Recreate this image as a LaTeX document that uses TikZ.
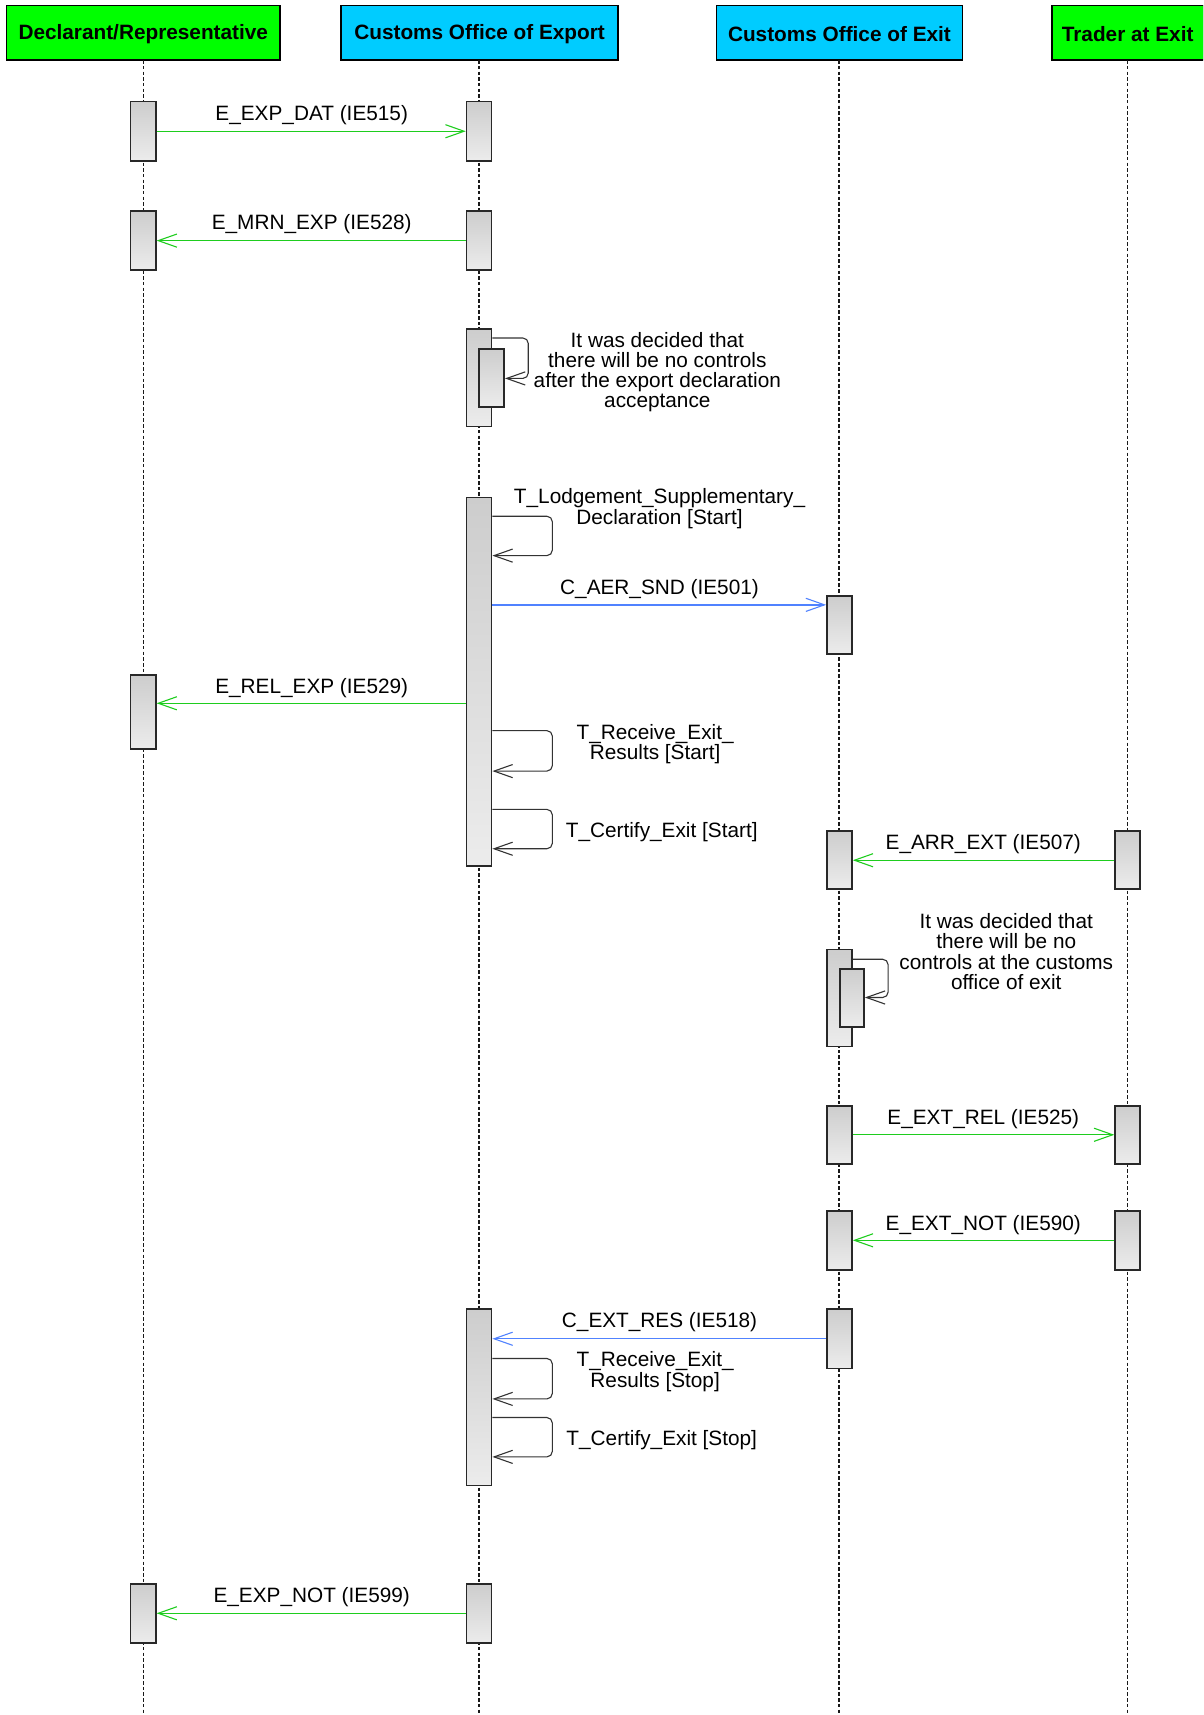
\documentclass[tikz,border=0pt]{standalone}
\usepackage{fontspec}
\setmainfont{Liberation Sans}
\usetikzlibrary{arrows.meta,fit,calc}
\definecolor{hdrgreen}{RGB}{0,255,0}
\definecolor{hdrcyan}{RGB}{0,204,255}
\definecolor{msggreen}{RGB}{30,205,30}
\definecolor{msgblue}{RGB}{80,130,255}
\definecolor{actborder}{RGB}{40,40,40}
\definecolor{acttop}{RGB}{205,205,205}
\definecolor{actbot}{RGB}{236,236,236}
\begin{document}
\begin{tikzpicture}[x=0.5pt,y=-0.5pt,
  font=\fontsize{9.5}{9.2}\selectfont,
  header/.style={draw=black, line width=0.8pt, inner sep=0pt, font=\fontsize{9.5}{10}\selectfont\bfseries},
  lifeline/.style={draw=black!90, line width=0.55pt, dash pattern=on 1.6pt off 1pt},
  act/.style={draw=actborder, line width=0.7pt, inner sep=0pt, top color=acttop, bottom color=actbot},
  vhead/.style={-{Straight Barb[length=8.5pt,width=6pt,line width=0.5pt]}},
  msgG/.style={draw=msggreen, line width=0.6pt, vhead},
  msgB/.style={draw=msgblue, line width=0.6pt, vhead},
  selfmsg/.style={draw=black!80, line width=0.5pt, rounded corners=2.5pt, vhead},
  lbl/.style={inner sep=0pt, align=center},
  hlbl/.style={inner sep=0pt, align=center, font=\fontsize{9.5}{10}\selectfont\bfseries}
]
\clip (0,0) rectangle (1100,1568);
\fill[white] (0,0) rectangle (1100,1568);
% headers
\node[header, fill=hdrgreen, fit={(6,5)(256,55)}] (hDecl) {};
\node[header, fill=hdrcyan, fit={(312,5)(565,55)}] (hExp) {};
\node[header, fill=hdrcyan, fit={(655,5)(880,55)}] (hExit) {};
\node[header, fill=hdrgreen, fit={(962,5)(1101,55)}] (hTrd) {};
\node[hlbl] (tDecl) at (131,31) {Declarant/Representative};
\node[hlbl] (tExp) at (438.5,31) {Customs Office of Export};
\node[hlbl] (tExit) at (767.5,31) {Customs Office of Exit};
\node[hlbl] (tTrd) at (1031,31) {Trader at Exit};
% lifelines
\draw[lifeline] (131,55) -- (131,1568);
\draw[lifeline] (438,55) -- (438,1568);
\draw[lifeline] (767,55) -- (767,1568);
\draw[lifeline] (1031,55) -- (1031,1568);
% activations: Declarant
\node[act, fit={(119.5,93)(142.5,147)}] (D1) {};
\node[act, fit={(119.5,193)(142.5,247)}] (D2) {};
\node[act, fit={(119.5,617)(142.5,685)}] (D3) {};
\node[act, fit={(119.5,1448)(142.5,1502)}] (D4) {};
% Export
\node[act, fit={(426.5,93)(449.5,147)}] (X1) {};
\node[act, fit={(426.5,193)(449.5,247)}] (X2) {};
\node[act, fit={(426.5,301)(449.5,390)}] (X3) {};
\node[act, fit={(438,319)(461,372)}] (X3i) {};
\node[act, fit={(426.5,455)(449.5,792)}] (X4) {};
\node[act, fit={(426.5,1197)(449.5,1358)}] (X5) {};
\node[act, fit={(426.5,1448)(449.5,1502)}] (X6) {};
% Exit
\node[act, fit={(756,545)(779,598)}] (E1) {};
\node[act, fit={(756,760)(779,813)}] (E2) {};
\node[act, fit={(756,868)(779,957)}] (E3) {};
\node[act, fit={(768,886)(790,939)}] (E3i) {};
\node[act, fit={(756,1011)(779,1064)}] (E4) {};
\node[act, fit={(756,1107)(779,1161)}] (E5) {};
\node[act, fit={(756,1197)(779,1251)}] (E6) {};
% Trader
\node[act, fit={(1019.5,760)(1042.5,813)}] (T1) {};
\node[act, fit={(1019.5,1011)(1042.5,1064)}] (T2) {};
\node[act, fit={(1019.5,1107)(1042.5,1161)}] (T3) {};
% messages
\draw[msgG] (D1.east) -- (X1.west);
\draw[msgG] (X2.west) -- (D2.east);
\coordinate (mAer) at (600,553);
\draw[msgB] (X4.east |- mAer) -- (E1.west |- mAer);
\coordinate (mRel) at (300,643);
\draw[msgG] (X4.west |- mRel) -- (D3.east |- mRel);
\draw[msgG] (T1.west) -- (E2.east);
\draw[msgG] (E4.east) -- (T2.west);
\draw[msgG] (T3.west) -- (E5.east);
\draw[msgB] (E6.west) -- (X5.east |- E6.west);
\draw[msgG] (X6.west) -- (D4.east);
% self messages
\draw[selfmsg] (X3.east |- 0,309) -- (483,309) -- (483,346) -- (X3i.east |- 0,346);
\draw[selfmsg] (E3.east |- 0,877) -- (812,877) -- (812,912) -- (E3i.east |- 0,912);
\draw[selfmsg] (X4.east |- 0,472) -- (505,472) -- (505,508) -- (X4.east |- 0,508);
\draw[selfmsg] (X4.east |- 0,668) -- (505,668) -- (505,705) -- (X4.east |- 0,705);
\draw[selfmsg] (X4.east |- 0,740) -- (505,740) -- (505,776) -- (X4.east |- 0,776);
\draw[selfmsg] (X5.east |- 0,1242) -- (505,1242) -- (505,1279) -- (X5.east |- 0,1279);
\draw[selfmsg] (X5.east |- 0,1296) -- (505,1296) -- (505,1332) -- (X5.east |- 0,1332);
% labels
\node[lbl] (l1) at (285,105) {E\_EXP\_DAT (IE515)};
\node[lbl] (l2) at (285,205) {E\_MRN\_EXP (IE528)};
\node[lbl] (l3) at (601,340) {It was decided that\\there will be no controls\\after the export declaration\\acceptance};
\node[lbl] (l4) at (603,465) {T\_Lodgement\_Supplementary\_\\Declaration [Start]};
\node[lbl] (l5) at (603,539) {C\_AER\_SND (IE501)};
\node[lbl] (l6) at (285,629) {E\_REL\_EXP (IE529)};
\node[lbl] (l7) at (599,680) {T\_Receive\_Exit\_\\Results [Start]};
\node[lbl] (l8) at (605,761) {T\_Certify\_Exit [Start]};
\node[lbl] (l9) at (899,772) {E\_ARR\_EXT (IE507)};
\node[lbl] (l10) at (920,870) {It was decided that\\there will be no\\controls at the customs\\office of exit};
\node[lbl] (l11) at (899,1023) {E\_EXT\_REL (IE525)};
\node[lbl] (l12) at (899,1120) {E\_EXT\_NOT (IE590)};
\node[lbl] (l13) at (603,1209) {C\_EXT\_RES (IE518)};
\node[lbl] (l14) at (599,1254) {T\_Receive\_Exit\_\\Results [Stop]};
\node[lbl] (l15) at (605,1317) {T\_Certify\_Exit [Stop]};
\node[lbl] (l16) at (285,1460) {E\_EXP\_NOT (IE599)};
\end{tikzpicture}
\end{document}
